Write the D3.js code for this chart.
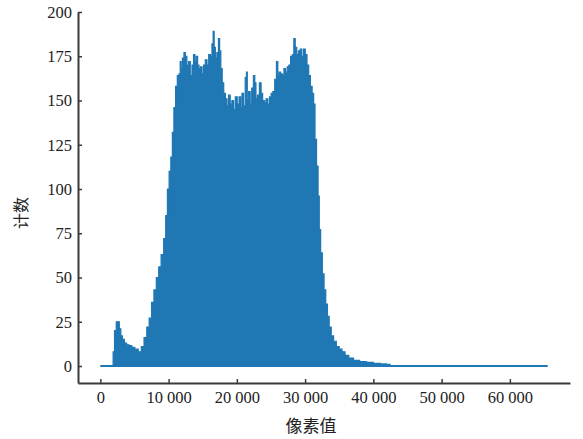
<!DOCTYPE html>
<html>
<head>
<meta charset="utf-8">
<script src="https://cdn.jsdelivr.net/npm/d3@7"></script>
<style>
  body { margin: 0; background: #fff; }
  text { font-family: "Liberation Serif", "DejaVu Serif", serif; }
</style>
</head>
<body>
<div id="chart"></div>
<script>
// histogram envelope: pixel value -> count
const pixelValues = [
    0, 1790, 1950, 2200, 2450, 2650, 2900, 3100, 3350, 3700, 4000, 4400, 4800, 5300, 5800,
    6200, 6600, 7000, 7300, 7700, 8000, 8400, 8700, 9100, 9450, 9700, 9950, 10200, 10450,
    10650, 10900, 11150, 11400, 11650, 11750, 11900, 12150, 12350, 12550, 12800, 13050,
    13300, 13550, 13750, 13950, 14150, 14350, 14550, 14800, 15000, 15250, 15500, 15750,
    16000, 16250, 16450, 16600, 16750, 16950, 17200, 17400, 17550, 17750, 17950, 18200,
    18450, 18650, 18900, 19150, 19400, 19650, 19900, 20200, 20450, 20650, 20850, 21100,
    21350, 21450, 21600, 21850, 22050, 22300, 22550, 22700, 22900, 23150, 23450, 23650,
    23900, 24150, 24400, 24650, 24900, 25150, 25400, 25700, 25900, 26100, 26300, 26550,
    26800, 27000, 27250, 27500, 27750, 28000, 28250, 28450, 28650, 28900, 29150, 29400,
    29650, 29900, 30150, 30400, 30650, 30900, 31150, 31350, 31550, 31800, 32000, 32150,
    32400, 32650, 32900, 33150, 33400, 33650, 34000, 34350, 34800, 35200, 35600, 36100,
    36700, 37500, 38500, 39500, 40500, 41500, 42400, 42500, 65535
];
const counts = [
    0, 0, 8, 20, 25, 25, 21, 17, 15, 13, 12, 11.5, 10.5, 9.5, 8,
    11, 16, 22, 27, 36, 43, 50, 56, 63, 72, 85, 100, 110, 118,
    132, 146, 158, 164, 165, 172, 168, 174, 177, 175, 170, 172,
    164, 170, 176, 172, 175, 170, 168, 169, 165, 170, 173, 170,
    176, 175, 182, 189, 180, 174, 177, 185, 178, 168, 160, 154,
    151, 147, 153, 148, 150, 145, 152, 148, 152, 146, 154, 147,
    163, 166, 150, 155, 148, 157, 164, 160, 151, 153, 160, 154,
    150, 149, 151, 148, 152, 154, 155, 162, 172, 164, 166, 165,
    164, 168, 166, 169, 170, 175, 176, 185, 180, 176, 178, 179,
    175, 179, 176, 170, 164, 158, 154, 148, 128, 113, 96, 77,
    64, 52, 43, 35, 28, 22, 17, 14, 11, 9.5, 8, 6,
    4.5, 3.2, 2.5, 2, 1.5, 1.2, 1, 0, 0
];
const yTicks = [0, 25, 50, 75, 100, 125, 150, 175, 200];
const xTicks = [0, 10000, 20000, 30000, 40000, 50000, 60000];
const xTickLabels = ["0", "10 000", "20 000", "30 000", "40 000", "50 000", "60 000"];
const xTitle = "像素值";
const yTitle = "计数";

const W = 583, H = 439;
const margins = { top: 12, right: 13, bottom: 56, left: 78 };
const color = "#1f77b4";
const axisColor = "#3a3a3a";

const data = pixelValues.map((v, i) => ({ v: v, c: counts[i] }));

const svg = d3.select("#chart").append("svg")
    .attr("width", W)
    .attr("height", H);

const xScale = d3.scaleLinear()
    .domain([-3277, 68812])
    .range([margins.left, W - margins.right]);

const yScale = d3.scaleLinear()
    .domain([-9.6, 200])
    .range([H - margins.bottom, margins.top]);

// filled histogram, stepped like the binned original
const area = d3.area()
    .curve(d3.curveStep)
    .x(d => xScale(d.v))
    .y0(yScale(0))
    .y1(d => yScale(d.c));

svg.append("path")
    .attr("d", area(data))
    .attr("fill", color)
    .attr("stroke", color)
    .attr("stroke-width", 1.2);

// baseline of the plotted line
svg.append("line")
    .attr("x1", xScale(0))
    .attr("x2", xScale(65535))
    .attr("y1", yScale(0))
    .attr("y2", yScale(0))
    .attr("stroke", color)
    .attr("stroke-width", 1.8);

const xGroup = svg.append("g")
    .attr("transform", `translate(0, ${H - margins.bottom})`)
    .call(d3.axisBottom(xScale)
        .tickValues(xTicks)
        .tickFormat((d, i) => xTickLabels[i])
        .tickSizeInner(-4)
        .tickSizeOuter(0)
        .tickPadding(8));

const yGroup = svg.append("g")
    .attr("transform", `translate(${margins.left}, 0)`)
    .call(d3.axisLeft(yScale)
        .tickValues(yTicks)
        .tickSizeInner(-4)
        .tickSizeOuter(0)
        .tickPadding(6));

[xGroup, yGroup].forEach(g => {
    g.select(".domain").attr("stroke", axisColor).attr("stroke-width", 2);
    g.selectAll(".tick line").attr("stroke", axisColor).attr("stroke-width", 1.5);
    g.selectAll(".tick text")
        .attr("fill", "#222")
        .attr("font-size", "16.5px")
        .style("font-family", "'Liberation Serif', serif");
});

svg.append("text")
    .attr("x", 311)
    .attr("y", 432)
    .attr("text-anchor", "middle")
    .attr("font-size", "17px")
    .attr("fill", "#222")
    .style("font-family", "'Noto Sans CJK SC', sans-serif")
    .text(xTitle);

svg.append("text")
    .attr("transform", "translate(27, 213) rotate(-90)")
    .attr("text-anchor", "middle")
    .attr("font-size", "16px")
    .attr("fill", "#222")
    .style("font-family", "'Noto Sans CJK SC', sans-serif")
    .text(yTitle);
</script>
</body>
</html>
